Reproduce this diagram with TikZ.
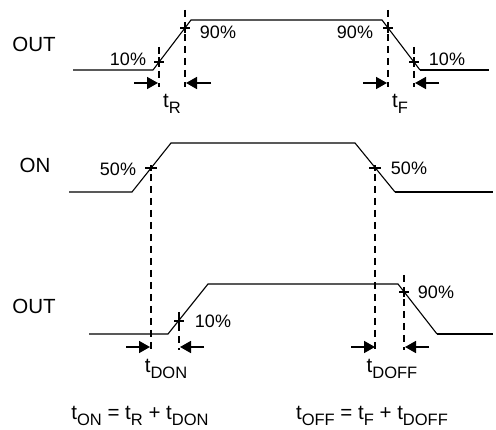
\documentclass[tikz,border=0pt]{standalone}
\usepackage{fontspec}
\setmainfont{Liberation Sans}
\usetikzlibrary{arrows.meta}
\newcommand\tsub[1]{t\raisebox{-0.3em}{\fontsize{16.5}{16.5}\selectfont #1}}
\tikzset{
  wave/.style={line width=1.1pt, line join=miter},
  wavethick/.style={line width=1.8pt},
  vdash/.style={line width=2pt, dash pattern=on 7pt off 5pt},
  tickmark/.style={line width=1.4pt},
  dimarrow/.style={line width=1.7pt, -{Triangle[length=11pt,width=12pt]}},
  siglabel/.style={font=\fontsize{20.5}{24}\selectfont, inner sep=0pt},
  pct/.style={font=\fontsize{18}{21}\selectfont, inner sep=0pt},
  tlabel/.style={font=\fontsize{20.5}{24}\selectfont, inner sep=0pt},
}
\begin{document}
\begin{tikzpicture}[x=1pt,y=-1pt]
\useasboundingbox (0,0) rectangle (496,430);
% ---------- top OUT waveform
\coordinate (a1) at (73,70); \coordinate (a2) at (153,70);
\coordinate (a3) at (191,20); \coordinate (a4) at (382,20);
\coordinate (a5) at (420,70); \coordinate (a6) at (489,70);
\draw[wave] (a1) -- (a2) -- (a3) -- (a4) -- (a5);
\draw[wavethick] (a5) -- (a6);
% ticks
\foreach \n/\x/\y in {ta/159/62, tb/185/28, tc/388/28, td/414/62}{
  \coordinate (\n) at (\x,\y);
  \draw[tickmark] ([xshift=-5pt]\n) -- ([xshift=5pt]\n);
  \draw[tickmark] ([yshift=-5pt]\n) -- ([yshift=5pt]\n);
}
% dashed
\coordinate (da1) at (159,47); \coordinate (da2) at (159,87);
\coordinate (db1) at (185,10); \coordinate (db2) at (185,87);
\coordinate (dc1) at (388,10); \coordinate (dc2) at (388,87);
\coordinate (dd1) at (414,47); \coordinate (dd2) at (414,87);
\draw[vdash] (da1) -- (da2);
\draw[vdash] (db1) -- (db2);
\draw[vdash] (dc1) -- (dc2);
\draw[vdash] (dd1) -- (dd2);
% dimension arrows
\coordinate (r1s) at (134,83); \coordinate (r1e) at (158,83);
\coordinate (r2s) at (211,83); \coordinate (r2e) at (186,83);
\coordinate (f1s) at (363,83); \coordinate (f1e) at (387,83);
\coordinate (f2s) at (439,83); \coordinate (f2e) at (415,83);
\draw[dimarrow] (r1s) -- (r1e);
\draw[dimarrow] (r2s) -- (r2e);
\draw[dimarrow] (f1s) -- (f1e);
\draw[dimarrow] (f2s) -- (f2e);
% labels
\node[siglabel] (out1) at (34,44) {OUT};
\node[pct] (p10a) at (128,59) {10\%};
\node[pct] (p90a) at (218,32) {90\%};
\node[pct] (p90b) at (355,32) {90\%};
\node[pct] (p10b) at (447,59) {10\%};
\node[tlabel] (tR) at (172,104) {\tsub{R}};
\node[tlabel] (tF) at (400,104) {\tsub{F}};

% ---------- ON waveform
\coordinate (b1) at (69,192); \coordinate (b2) at (132,192);
\coordinate (b3) at (171,143); \coordinate (b4) at (355,143);
\coordinate (b5) at (395,192); \coordinate (b6) at (493,192);
\draw[wave] (b1) -- (b2) -- (b3) -- (b4) -- (b5);
\draw[wavethick] (b5) -- (b6);
\foreach \n/\x/\y in {te/151/168, tf/375/168}{
  \coordinate (\n) at (\x,\y);
  \draw[tickmark] ([xshift=-6pt]\n) -- ([xshift=6pt]\n);
  \draw[tickmark] ([yshift=-3pt]\n) -- ([yshift=3pt]\n);
}
\coordinate (de1) at (151,174); \coordinate (de2) at (151,350);
\coordinate (df1) at (375,174); \coordinate (df2) at (375,350);
\draw[vdash] (de1) -- (de2);
\draw[vdash] (df1) -- (df2);
\node[siglabel] (on) at (35,165) {ON};
\node[pct] (p50a) at (118,169) {50\%};
\node[pct] (p50b) at (409,168) {50\%};

% ---------- bottom OUT waveform
\coordinate (c1) at (89,334); \coordinate (c2) at (168,334);
\coordinate (c3) at (208,284); \coordinate (c4) at (398,284);
\coordinate (c5) at (437,334); \coordinate (c6) at (493,334);
\draw[wave] (c1) -- (c2) -- (c3) -- (c4) -- (c5);
\draw[wavethick] (c5) -- (c6);
\foreach \n/\x/\y in {tg/179/321, th/404/292}{
  \coordinate (\n) at (\x,\y);
  \draw[tickmark] ([xshift=-5pt]\n) -- ([xshift=5pt]\n);
  \draw[tickmark] ([yshift=-5pt]\n) -- ([yshift=5pt]\n);
}
\coordinate (dg1) at (179,312); \coordinate (dg2) at (179,350);
\coordinate (dh1) at (404,275); \coordinate (dh2) at (404,350);
\draw[vdash] (dg1) -- (dg2);
\draw[vdash] (dh1) -- (dh2);
\coordinate (n1s) at (126,347); \coordinate (n1e) at (150,347);
\coordinate (n2s) at (204,347); \coordinate (n2e) at (180,347);
\coordinate (o1s) at (351,347); \coordinate (o1e) at (375,347);
\coordinate (o2s) at (429,347); \coordinate (o2e) at (405,347);
\draw[dimarrow] (n1s) -- (n1e);
\draw[dimarrow] (n2s) -- (n2e);
\draw[dimarrow] (o1s) -- (o1e);
\draw[dimarrow] (o2s) -- (o2e);
\node[siglabel] (out2) at (34,306) {OUT};
\node[pct] (p10c) at (213,321) {10\%};
\node[pct] (p90c) at (436,292) {90\%};
\node[tlabel] (tDON) at (166,369) {\tsub{DON}};
\node[tlabel] (tDOFF) at (392,369) {\tsub{DOFF}};

% ---------- formulas
\node[tlabel] (eqon) at (140,416) {\tsub{ON} = \tsub{R} + \tsub{DON}};
\node[tlabel] (eqoff) at (372,416) {\tsub{OFF} = \tsub{F} + \tsub{DOFF}};
\end{tikzpicture}
\end{document}
